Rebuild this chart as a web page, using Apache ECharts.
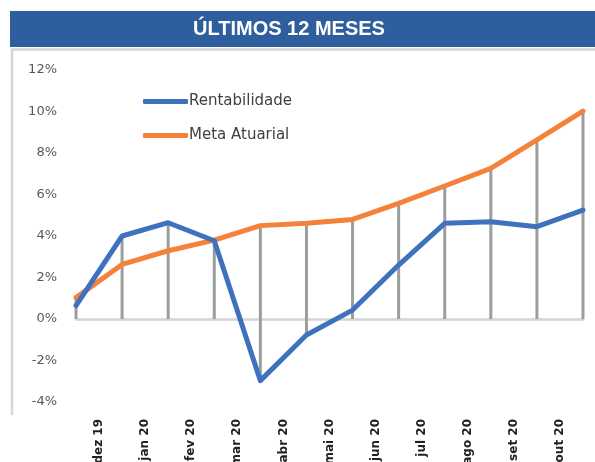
<!DOCTYPE html>
<html>
<head>
<meta charset="utf-8">
<script src="https://cdn.jsdelivr.net/npm/echarts@6/dist/echarts.min.js"></script>
<style>
  html, body { margin: 0; padding: 0; background: #fff; }
  #chart { width: 595px; height: 462px; }
</style>
</head>
<body>
<div id="chart"></div>
<script>
// pontos mensais (fim de mês) e rótulos do eixo
let points = ['nov 19', 'dez 19', 'jan 20', 'fev 20', 'mar 20', 'abr 20', 'mai 20', 'jun 20', 'jul 20', 'ago 20', 'set 20', 'out 20'];
let labels = ['dez 19', 'jan 20', 'fev 20', 'mar 20', 'abr 20', 'mai 20', 'jun 20', 'jul 20', 'ago 20', 'set 20', 'out 20'];

// valores em %
let rentabilidade = [0.65, 4.0, 4.64, 3.77, -2.97, -0.77, 0.43, 2.6, 4.61, 4.69, 4.45, 5.25];
let metaAtuarial = [1.03, 2.63, 3.29, 3.8, 4.5, 4.61, 4.8, 5.57, 6.41, 7.26, 8.63, 10.02];

let blue = '#3F72BE';
let orange = '#F4823A';

// linhas de queda: do ponto mais alto até o menor valor (ou zero)
let drops = points.map((p, i) => {
    let a = rentabilidade[i], b = metaAtuarial[i];
    return [i, Math.min(0, a, b), Math.max(a, b)];
});

let myChart = echarts.init(document.getElementById('chart'));

let option = {
    animation: false,
    backgroundColor: '#fff',
    graphic: [
        {
            type: 'rect',
            z: -10,
            shape: { x: 10, y: 11, width: 585, height: 36 },
            style: { fill: '#2E5E9E' }
        },
        {
            type: 'text',
            z: -9,
            x: 289,
            y: 29,
            style: {
                text: 'ÚLTIMOS 12 MESES',
                fill: '#fff',
                font: 'bold 20px "Liberation Sans", Arial, sans-serif',
                textAlign: 'center',
                textVerticalAlign: 'middle'
            }
        },
        {
            type: 'polyline',
            z: -10,
            shape: { points: [[12, 415], [12, 49.5], [595, 49.5]] },
            style: { stroke: '#d6d6d6', lineWidth: 2.5, fill: null }
        }
    ],
    legend: {
        orient: 'vertical',
        left: 138,
        top: 89,
        itemWidth: 45,
        itemHeight: 5,
        itemGap: 19,
        icon: 'roundRect',
        data: ['Rentabilidade', 'Meta Atuarial'],
        textStyle: {
            fontFamily: 'DejaVu Sans',
            fontSize: 15,
            color: '#404040',
            padding: [0, 0, 0, -4]
        }
    },
    grid: {
        left: 76,
        right: 12,
        top: 70,
        bottom: 60,
        outerBoundsMode: 'none'
    },
    xAxis: [
        {
            type: 'category',
            position: 'bottom',
            data: points,
            boundaryGap: false,
            axisLine: {
                onZero: true,
                lineStyle: { color: '#d4d4d4', width: 2.5 }
            },
            axisTick: { show: false },
            axisLabel: { show: false },
            splitLine: { show: false }
        },
        {
            type: 'category',
            position: 'bottom',
            data: labels,
            boundaryGap: true,
            axisLine: { show: false, onZero: false },
            axisTick: { show: false },
            axisLabel: {
                rotate: 90,
                margin: 17,
                fontFamily: 'DejaVu Sans',
                fontWeight: 'bold',
                fontSize: 12,
                color: '#222'
            },
            splitLine: { show: false }
        }
    ],
    yAxis: {
        type: 'value',
        min: -4,
        max: 12,
        interval: 2,
        axisLine: { show: false },
        axisTick: { show: false },
        splitLine: { show: false },
        axisLabel: {
            formatter: '{value}%',
            margin: 19,
            fontFamily: 'DejaVu Sans',
            fontSize: 13,
            color: '#595959'
        }
    },
    series: [
        {
            name: 'drops',
            type: 'custom',
            xAxisIndex: 0,
            z: 1,
            data: drops,
            renderItem: function (params, api) {
                let top = api.coord([api.value(0), api.value(2)]);
                let bot = api.coord([api.value(0), api.value(1)]);
                return {
                    type: 'line',
                    shape: { x1: top[0], y1: top[1], x2: bot[0], y2: bot[1] },
                    style: { stroke: '#9c9e9e', lineWidth: 3 }
                };
            }
        },
        {
            name: 'Rentabilidade',
            type: 'line',
            xAxisIndex: 0,
            z: 3,
            data: rentabilidade,
            showSymbol: false,
            color: blue,
            lineStyle: { width: 5, color: blue, cap: 'round', join: 'round' }
        },
        {
            name: 'Meta Atuarial',
            type: 'line',
            xAxisIndex: 0,
            z: 2,
            data: metaAtuarial,
            showSymbol: false,
            color: orange,
            lineStyle: { width: 5, color: orange, cap: 'round', join: 'round' }
        }
    ]
};

myChart.setOption(option);
</script>
</body>
</html>
